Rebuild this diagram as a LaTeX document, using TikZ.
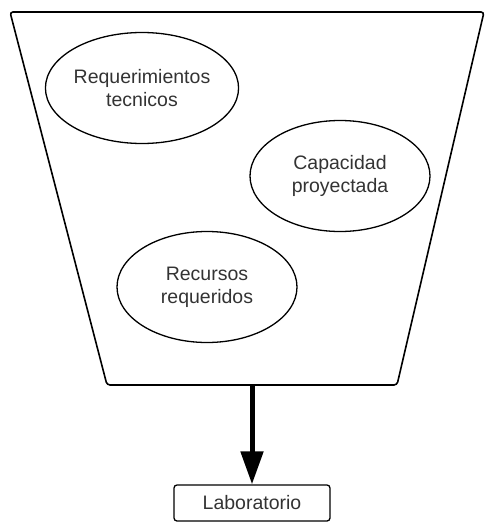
\documentclass[tikz,border=0pt]{standalone}
\usepackage{fontspec}
\setmainfont{Liberation Sans}
\usetikzlibrary{arrows.meta, positioning, shapes.geometric}

\tikzset{
  factor/.style={draw, ellipse, line width=1.3pt, minimum width=180pt, minimum height=111pt,
    inner sep=0pt, align=center, text=black!80, font=\fontsize{19.5}{23}\selectfont},
  result/.style={draw, rounded corners=3pt, line width=1.3pt, minimum width=156pt, minimum height=36pt,
    inner sep=0pt, text=black!80, font=\fontsize{19.5}{23}\selectfont},
}

\begin{document}
\begin{tikzpicture}[x=1pt, y=-1pt, >=Latex]
  \useasboundingbox (0,0) rectangle (485,527);

  % embudo
  \coordinate (tl) at (10,12);
  \coordinate (tr) at (484,12);
  \coordinate (br) at (397,385);
  \coordinate (bl) at (107,385);
  \draw[line width=1.6pt, rounded corners=3pt] (tl) -- (tr) -- (br) -- (bl) -- cycle;

  \node[factor] (req) at (142,88) {Requerimientos\\tecnicos};
  \node[factor] (cap) at (340,176) {Capacidad\\proyectada};
  \node[factor] (rec) at (207,287) {Recursos\\requeridos};

  \node[result] (lab) at (252,503) {Laboratorio};

  \coordinate (out) at (252,385);
  \draw[line width=5pt, -{Triangle[length=33pt, width=22pt]}] (out) -- (lab.north);
\end{tikzpicture}
\end{document}
